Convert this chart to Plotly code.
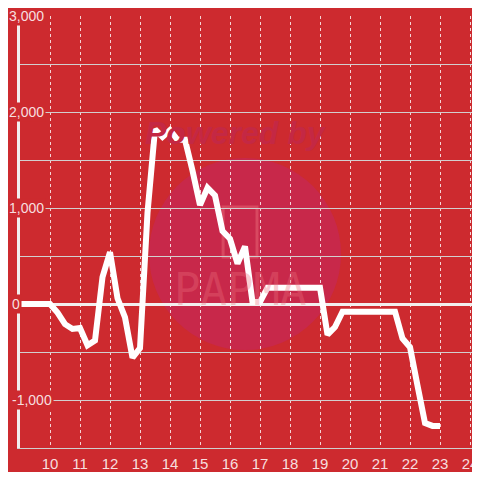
import plotly.graph_objects as go

# Série (heure -> valeur), pas de 15 minutes
heures = [9 + i * 0.25 for i in range(57)]
valeurs = [
    0, 0, 0, 0, 0, -90, -210, -260,
    -250, -430, -380, 280, 540, 60, -140, -560,
    -460, 950, 1820, 1740, 1810, 1710, 1710, 1390,
    1030, 1210, 1130, 760, 680, 420, 600, 20,
    20, 170, 170, 170, 170, 170, 170, 170,
    170, -320, -240, -80, -80, -80, -80, -80,
    -80, -80, -80, -360, -450, -850, -1240, -1270,
    -1270,
]
x_ticks = list(range(10, 25))
y_label_vals = [3000, 2000, 1000, 0, -1000]
y_label_txt = ['3,000', '2,000', '1,000', '0', '-1,000']

BG = '#cd2a2f'
LABEL = 'rgba(255,255,255,0.86)'

fig = go.Figure()
fig.add_trace(go.Scatter(
    x=heures, y=valeurs, mode='lines',
    line=dict(color='white', width=6),
    hoverinfo='skip', showlegend=False,
))

# --- filigrane "Powered by" ---
shapes = [
    dict(type='circle', xref='x', yref='y', x0=13.3, x1=19.7, y0=-479, y1=1521,
         fillcolor='#c8284a', line=dict(width=0), layer='below'),
    dict(type='rect', xref='x', yref='y', x0=15.77, x1=16.9, y0=490, y1=1010,
         line=dict(color='rgba(235,110,125,0.45)', width=3), layer='below'),
]
annotations = [
    dict(xref='x', yref='y', x=16.2, y=1780, text='<b><i>Powered by</i></b>',
         showarrow=False, font=dict(size=32, color='#c42844', family='Liberation Sans')),
    dict(xref='x', yref='y', x=16.33, y=156, text='PAPMA',
         showarrow=False, font=dict(size=44, color='rgba(235,110,125,0.35)', family='DejaVu Sans Mono')),
]

# --- étiquettes de l'axe Y (fond rouge qui masque la grille) ---
for v, t in zip(y_label_vals, y_label_txt):
    if v == 0 or t.startswith('-'):
        pos = dict(x=-0.022, xanchor='left')
    else:
        pos = dict(x=0.056, xanchor='right')
    annotations.append(dict(
        xref='paper', yref='y', y=v, text=t, showarrow=False,
        yanchor='middle', bgcolor=BG, borderpad=1,
        font=dict(size=14, color=LABEL, family='Liberation Sans'), **pos))

# la page ajoute une marge de 8 px autour de la figure
fig.update_layout(
    width=472, height=464,
    paper_bgcolor=BG, plot_bgcolor=BG,
    margin=dict(l=12, r=0, t=8, b=24, autoexpand=False),
    shapes=shapes, annotations=annotations,
    xaxis=dict(
        range=[9, 24.333], tickvals=x_ticks, ticktext=[str(v) for v in x_ticks],
        showgrid=True, gridcolor='rgba(255,255,255,0.8)', gridwidth=1, griddash='dot',
        showline=True, linecolor='#cfcfcf', linewidth=1,
        zeroline=False, ticks='', ticklabelstandoff=2, automargin=False,
        ticklabeloverflow='allow',
        tickfont=dict(size=15, color=LABEL, family='Liberation Sans'),
        fixedrange=True,
    ),
    yaxis=dict(
        range=[-1500, 3000], dtick=500, showticklabels=False,
        showgrid=True, gridcolor='#d2cfcf', gridwidth=1,
        zeroline=True, zerolinecolor='#f2eeee', zerolinewidth=3,
        showline=True, linecolor='#f2eeee', linewidth=3,
        ticks='', fixedrange=True, automargin=False,
    ),
)

fig.write_html("out.html")
